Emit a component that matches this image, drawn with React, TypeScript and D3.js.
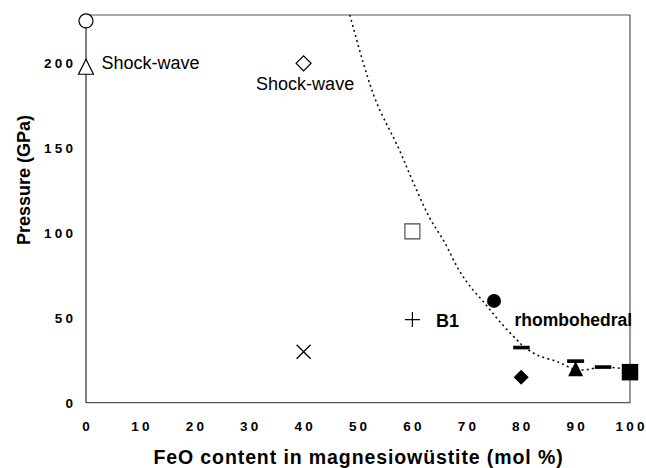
import React from 'react';
import * as d3 from 'd3';

// open markers (shock-wave / literature points)
const openCircle = [[0, 225]];
const openTriangle = [[0, 198]];
const openDiamond = [[40, 200]];
const openSquare = [[60, 101]];
const plusPts = [[60, 49]];
const crossPts = [[40, 30]];

// filled markers
const filledCircle = [[75, 60]];
const filledDiamond = [[80, 15]];
const dashPts = [[80, 32.5], [95, 21]];
const filledTriangle = [[90, 20]];
const triangleErrTop = [24.5];
const filledSquare = [[100, 18]];

// dotted phase boundary
const boundaryFeO = [48.5, 51, 53.4, 57.6, 60, 63, 66, 68.4, 70.5, 73.3, 76, 79.2, 80.5, 83, 86.8, 90, 92, 95, 100];
const boundaryP = [228.5, 200, 177, 149, 131, 110, 94, 79, 69, 58.6, 48, 37, 33, 28, 24, 19.5, 19.5, 21, 19.5];

const xTicks = [0, 10, 20, 30, 40, 50, 60, 70, 80, 90, 100];
const yTicks = [0, 50, 100, 150, 200];

const labels = [
  { text: 'Shock-wave', x: 0, y: 200, dx: 15.5, dy: 6, bold: false, size: 18 },
  { text: 'Shock-wave', x: 40, y: 200, dx: -47.5, dy: 27, bold: false, size: 18 },
  { text: 'B1', x: 60, y: 49, dx: 23.5, dy: 7.5, bold: true, size: 18 },
  { text: 'rhombohedral', x: 75, y: 60, dx: 20.5, dy: 25, bold: true, size: 17.5 },
];

const FONT = '"Liberation Sans", Arial, Helvetica, sans-serif';
const TICK_SIZE = 13.5;
const DIGIT_W = TICK_SIZE * 0.556;
const DIGIT_GAP = 3.2;

const isoTriangle = {
  draw(ctx: any, size: number) {
    const h = Math.sqrt(size) / 2;
    ctx.moveTo(0, -h);
    ctx.lineTo(h, h);
    ctx.lineTo(-h, h);
    ctx.closePath();
  },
};
const plusShape = {
  draw(ctx: any, size: number) {
    const h = Math.sqrt(size) / 2;
    ctx.moveTo(-h, 0);
    ctx.lineTo(h, 0);
    ctx.moveTo(0, -h);
    ctx.lineTo(0, h);
  },
};
const crossShape = {
  draw(ctx: any, size: number) {
    const h = Math.sqrt(size) / 2;
    ctx.moveTo(-h, -h);
    ctx.lineTo(h, h);
    ctx.moveTo(h, -h);
    ctx.lineTo(-h, h);
  },
};

// spaced-out digits, positioned glyph by glyph so no trailing spacing
function digitXs(t: number, start: number) {
  return String(t)
    .split('')
    .map((_, i) => (start + i * (DIGIT_W + DIGIT_GAP)).toFixed(2))
    .join(' ');
}
function labelWidth(t: number) {
  const n = String(t).length;
  return n * DIGIT_W + (n - 1) * DIGIT_GAP;
}

export default function App() {
  const width = 646;
  const height = 468;

  const x = d3.scaleLinear().domain([0, 100]).range([86, 630]);
  const y = d3.scaleLinear().domain([0, 228.5]).range([402.7, 15]);

  const circlePath = d3.symbol().type(d3.symbolCircle).size(Math.PI * 7 * 7)()!;
  const squarePath = d3.symbol().type(d3.symbolSquare).size(15 * 15)()!;
  const diamondPath = d3.symbol().type(d3.symbolSquare).size(10.6 * 10.6)()!;
  const trianglePath = d3.symbol().type(isoTriangle as any).size(15 * 15)()!;
  const plusPath = d3.symbol().type(plusShape as any).size(15 * 15)()!;
  const crossPath = d3.symbol().type(crossShape as any).size(14 * 14)()!;

  const curve = d3
    .line<number>()
    .x((d) => x(d))
    .y((_, i) => y(boundaryP[i]))
    .curve(d3.curveCatmullRom.alpha(0.5));

  const tr = (p: number[], rot = 0) => `translate(${x(p[0])},${y(p[1])})${rot ? ` rotate(${rot})` : ''}`;

  const [x0, x1] = x.range();
  const [yb, yt] = y.range();

  return (
    <svg width={width} height={height} style={{ position: 'absolute', left: 0, top: 0, background: '#fff' }}>
      <rect width={width} height={height} fill="#fff" />
      {/* frame */}
      <path d={`M${x0},${yt}H${x1}V${yb}H${x0}`} fill="none" stroke="#555" strokeWidth={1.2} />
      <line x1={x0} x2={x0} y1={yt} y2={yb} stroke="#000" strokeWidth={1} />

      {/* boundary */}
      <path d={curve(boundaryFeO)!} fill="none" stroke="#111" strokeWidth={1.6} strokeDasharray="2,3.2" />

      {/* tick labels */}
      {yTicks.map((t) => (
        <text key={'y' + t} x={digitXs(t, 73 - labelWidth(t))} y={y(t)} dy="0.36em" fontFamily={FONT}
          fontWeight="bold" fontSize={TICK_SIZE} fill="#000">{t}</text>
      ))}
      {xTicks.map((t) => (
        <text key={'x' + t} x={digitXs(t, x(t) - labelWidth(t) / 2)} y={431} fontFamily={FONT}
          fontWeight="bold" fontSize={TICK_SIZE} fill="#000">{t}</text>
      ))}

      {/* axis titles */}
      <text x={(x0 + x1) / 2 + 0.5} y={464} textAnchor="middle" fontFamily={FONT} fontWeight="bold"
        fontSize={19.5} letterSpacing={0.9} fill="#000">FeO content in magnesiowüstite (mol %)</text>
      <text transform="translate(24,180) rotate(-90)" dy="0.36em" textAnchor="middle" fontFamily={FONT}
        fontWeight="bold" fontSize={18} fill="#000">Pressure (GPa)</text>

      {/* open markers */}
      {openCircle.map((p, i) => (
        <path key={'oc' + i} d={circlePath} transform={tr(p)} fill="#fff" stroke="#000" strokeWidth={1.2} />
      ))}
      {openTriangle.map((p, i) => (
        <path key={'ot' + i} d={trianglePath} transform={tr(p)} fill="#fff" stroke="#000" strokeWidth={1.2} />
      ))}
      {openDiamond.map((p, i) => (
        <path key={'od' + i} d={diamondPath} transform={tr(p, 45)} fill="#fff" stroke="#000" strokeWidth={1.2} />
      ))}
      {openSquare.map((p, i) => (
        <path key={'os' + i} d={squarePath} transform={tr(p)} fill="#fff" stroke="#444" strokeWidth={1.1} />
      ))}
      {plusPts.map((p, i) => (
        <path key={'pl' + i} d={plusPath} transform={tr(p)} fill="none" stroke="#000" strokeWidth={1.2} />
      ))}
      {crossPts.map((p, i) => (
        <path key={'cr' + i} d={crossPath} transform={tr(p)} fill="none" stroke="#000" strokeWidth={1.3} />
      ))}

      {/* filled markers */}
      {filledCircle.map((p, i) => (
        <path key={'fc' + i} d={circlePath} transform={tr(p)} fill="#000" />
      ))}
      {filledDiamond.map((p, i) => (
        <path key={'fd' + i} d={diamondPath} transform={tr(p, 45)} fill="#000" />
      ))}
      {dashPts.map((p, i) => (
        <rect key={'da' + i} x={x(p[0]) - 8} y={y(p[1]) - 1.8} width={16.5} height={3.6} fill="#000" />
      ))}
      {filledTriangle.map((p, i) => (
        <g key={'ft' + i}>
          <line x1={x(p[0])} x2={x(p[0])} y1={y(p[1])} y2={y(triangleErrTop[i])} stroke="#000" strokeWidth={1.5} />
          <rect x={x(p[0]) - 8.5} y={y(triangleErrTop[i]) - 1.8} width={17} height={3.6} fill="#000" />
          <path d={trianglePath} transform={tr(p)} fill="#000" />
        </g>
      ))}
      {filledSquare.map((p, i) => (
        <path key={'fs' + i} d={d3.symbol().type(d3.symbolSquare).size(16 * 17)()!} transform={tr(p)} fill="#000" />
      ))}

      {/* annotations */}
      {labels.map((l, i) => (
        <text key={'lb' + i} x={x(l.x) + l.dx} y={y(l.y) + l.dy} fontFamily={FONT}
          fontWeight={l.bold ? 'bold' : 'normal'} fontSize={l.size} fill="#000">{l.text}</text>
      ))}
    </svg>
  );
}
